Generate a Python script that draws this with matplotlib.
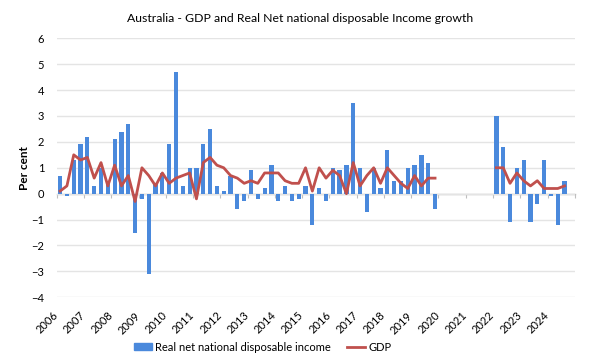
import numpy as np
import matplotlib
matplotlib.use("Agg")
import matplotlib.pyplot as plt
from matplotlib.lines import Line2D
from matplotlib.patches import Patch

nan = np.nan

# quarterly growth, 2006Q1 .. 2024Q4 (2020-2021 left blank in the source chart)
income = [0.7, -0.1, 1.3, 1.9, 2.2, 0.3, 1.0, 0.4,
          2.1, 2.4, 2.7, -1.5, -0.2, -3.1, 0.4, 0.8,
          1.9, 4.7, 0.3, 1.0, 1.0, 1.9, 2.5, 0.3,
          0.1, 0.7, -0.6, -0.3, 0.9, -0.2, 0.2, 1.1,
          -0.3, 0.3, -0.3, -0.2, 0.3, -1.2, 0.2, -0.3,
          1.0, 0.9, 1.1, 3.5, 1.0, -0.7, 1.0, 0.2,
          1.7, 0.5, 0.5, 1.0, 1.1, 1.5, 1.2, -0.6,
          nan, nan, nan, nan, nan, nan, nan, nan,
          3.0, 1.8, -1.1, 1.0, 1.3, -1.1, -0.4, 1.3,
          -0.1, -1.2, 0.5, nan]

gdp = [0.1, 0.3, 1.5, 1.3, 1.4, 0.6, 1.2, 0.3,
       1.1, 0.3, 0.7, -0.3, 1.0, 0.7, 0.3, 0.8,
       0.4, 0.6, 0.7, 0.8, -0.2, 1.2, 1.4, 1.1,
       1.0, 0.7, 0.6, 0.4, 0.5, 0.4, 0.8, 0.8,
       0.8, 0.5, 0.4, 0.4, 1.0, 0.1, 1.0, 0.6,
       0.9, 0.7, 0.0, 1.2, 0.3, 0.7, 1.0, 0.4,
       1.0, 0.7, 0.4, 0.2, 0.7, 0.3, 0.6, 0.6,
       nan, nan, nan, nan, nan, nan, nan, nan,
       1.0, 1.0, 0.4, 0.8, 0.5, 0.3, 0.5, 0.2,
       0.2, 0.2, 0.3, nan]

years = [str(y) for y in range(2006, 2025)]

plt.rcParams['font.family'] = ['Lato', 'DejaVu Sans']

blue = '#4a89dc'
red = '#c0504d'

x = np.arange(len(income))

fig = plt.figure(figsize=(6, 3.61), dpi=100)
ax = fig.add_axes([0.0945, 0.1765, 0.8635, 0.7175])

ax.bar(x, income, width=0.62, color=blue, zorder=2)
ax.plot(x, gdp, color=red, linewidth=2.0, zorder=3)

ax.set_xlim(-0.5, len(income) - 0.5)
ax.set_ylim(-4, 6)
ax.set_yticks(range(-4, 7))
ax.grid(axis='y', color='#e4e4e4', linewidth=1, zorder=0)
ax.tick_params(axis='y', length=0, labelsize=8, pad=9)

for s in ax.spines.values():
    s.set_visible(False)

# year labels at the first quarter of each year
ax.set_xticks(x[::4])
ax.set_xticklabels(years, rotation=45, ha='right', rotation_mode='default')
ax.tick_params(axis='x', length=0, labelsize=8, pad=9)

# category axis at zero with tick marks between years
zero_axis = ax.secondary_xaxis(0.4)
zero_axis.set_xticks(np.arange(-0.5, len(income), 4))
zero_axis.set_xticklabels([])
zero_axis.tick_params(length=3, color='#bfbfbf', width=0.8)
zero_axis.spines['bottom'].set_color('#bfbfbf')
zero_axis.spines['bottom'].set_linewidth(1)

ax.set_ylabel('Per cent', fontsize=8.5, fontweight='bold', labelpad=1)
fig.suptitle('Australia - GDP and Real Net national disposable Income growth',
             fontsize=8.8, y=0.965)

handles = [Patch(color=blue, label='Real net national disposable income'),
           Line2D([0], [0], color=red, linewidth=2.0, label='GDP')]
fig.legend(handles=handles, loc='lower center', bbox_to_anchor=(0.438, -0.005),
           ncol=2, frameon=False, fontsize=8, handlelength=1.6,
           handleheight=0.6, columnspacing=1.5, handletextpad=0.25)

fig.savefig('out.png', dpi=100)
